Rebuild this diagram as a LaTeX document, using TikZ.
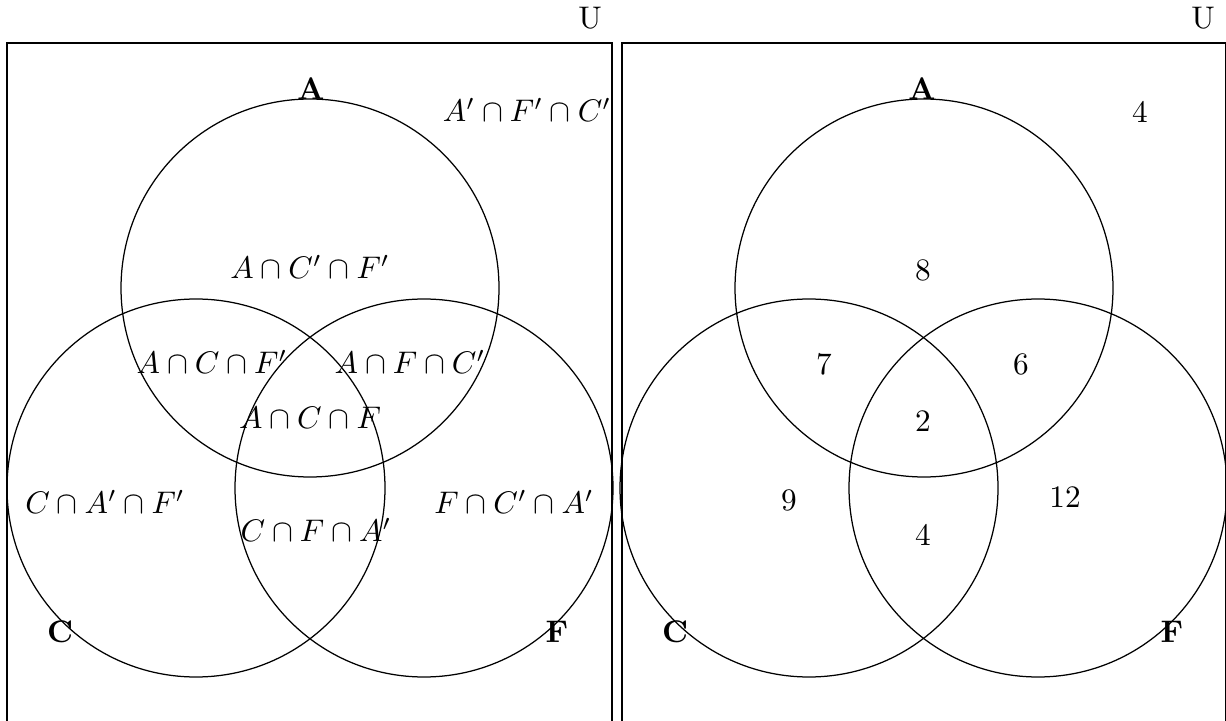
\documentclass[tikz,border=0pt]{standalone}
\usepackage{amsmath}
\usetikzlibrary{positioning}
\tikzset{setname/.style={font=\bfseries,inner sep=0pt},
         region/.style={inner sep=0pt}}
\begin{document}
\begin{tikzpicture}[x=1pt,y=-1pt,scale=0.32]
     \useasboundingbox (0,0) rectangle (1226,721);
     % left panel: the regions
     \draw (7,43) rectangle (612,740);
     \node (uL) at (590,18) {U};
     \draw (310,288) circle (189);
     \draw (196,488) circle (189);
     \draw (424,488) circle (189);
     \node[setname] (aL) at (311,89) {A};
     \node[setname] (cL) at (60,632) {C};
     \node[setname] (fL) at (557,632) {F};
     \node[region] (outL) at (527,110) {$A'\cap F'\cap C'$};
     \node[region] (acfL) at (310,267) {$A\cap C'\cap F'$};
     \node[region] (acL) at (212,362) {$A\cap C\cap F'$};
     \node[region] (afL) at (410,362) {$A\cap F\cap C'$};
     \node[region] (allL) at (310,418) {$A\cap C\cap F$};
     \node[region] (cOnlyL) at (105,502) {$C\cap A'\cap F'$};
     \node[region] (fOnlyL) at (514,502) {$F\cap C'\cap A'$};
     \node[region] (cfL) at (316,530) {$C\cap F\cap A'$};
     % right panel: the counts
     \draw (622,43) rectangle (1225.5,740);
     \node (uR) at (1203,18) {U};
     \draw (924,288) circle (189);
     \draw (809,488) circle (189);
     \draw (1038,488) circle (189);
     \node[setname] (aR) at (922,89) {A};
     \node[setname] (cR) at (675,632) {C};
     \node[setname] (fR) at (1172,632) {F};
     \node[region] (outR) at (1140,112) {4};
     \node[region] (acfR) at (923,270) {8};
     \node[region] (acR) at (824,364) {7};
     \node[region] (afR) at (1021,364) {6};
     \node[region] (allR) at (923,421) {2};
     \node[region] (cOnlyR) at (789,500) {9};
     \node[region] (fOnlyR) at (1065,497) {12};
     \node[region] (cfR) at (923,535) {4};
\end{tikzpicture}
\end{document}
